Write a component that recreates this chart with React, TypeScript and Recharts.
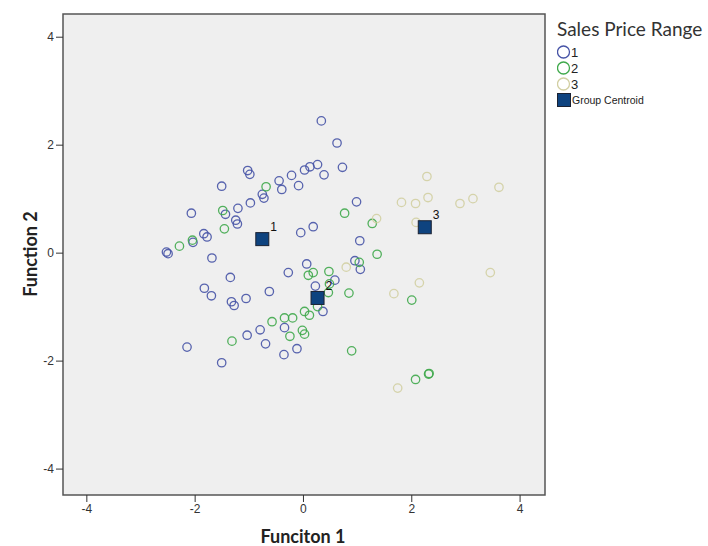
import { ScatterChart, Scatter, XAxis, YAxis, CartesianGrid, ReferenceArea } from 'recharts'

// discriminant scores: [function 1, function 2]
const group1: Array<[number, number]> = [
  [0.33, 2.45], [0.62, 2.04], [0.72, 1.59], [-1.03, 1.53], [-0.99, 1.46], [-1.51, 1.24],
  [-0.45, 1.34], [-0.4, 1.18], [-0.22, 1.44], [-0.09, 1.25], [0.02, 1.54], [0.12, 1.6],
  [0.26, 1.64], [0.38, 1.45], [-0.76, 1.09], [-0.73, 1.02], [-0.98, 0.93], [-1.21, 0.83],
  [-1.44, 0.72], [-2.07, 0.74], [-1.25, 0.61], [-1.22, 0.54], [-1.84, 0.36], [-1.78, 0.3],
  [-2.04, 0.2], [-2.53, 0.02], [-2.5, -0.01], [-1.69, -0.09], [-0.05, 0.38], [0.18, 0.49],
  [0.06, -0.2], [0.98, 0.95], [1.04, 0.23], [0.95, -0.14], [1.05, -0.3], [-1.35, -0.45],
  [-0.28, -0.36], [-1.83, -0.65], [-1.7, -0.79], [-1.33, -0.9], [-1.28, -0.97], [-1.06, -0.84],
  [-0.63, -0.71], [0.22, -0.61], [0.58, -0.5], [0.36, -1.08], [-0.8, -1.42], [-0.35, -1.38],
  [-1.04, -1.52], [-0.7, -1.68], [-0.12, -1.77], [-0.36, -1.88], [-2.15, -1.74], [-1.51, -2.03],
]

const group2: Array<[number, number]> = [
  [-0.69, 1.23], [-1.49, 0.79], [-1.46, 0.45], [-2.05, 0.24], [-2.29, 0.13], [0.76, 0.74],
  [1.27, 0.55], [1.36, -0.02], [1.03, -0.17], [0.09, -0.41], [0.18, -0.36], [0.47, -0.34],
  [0.48, -0.57], [0.46, -0.73], [0.84, -0.74], [0.26, -0.99], [0.02, -1.08], [0.11, -1.15],
  [-0.35, -1.2], [-0.2, -1.2], [-0.58, -1.27], [-0.02, -1.43], [0.02, -1.5], [-0.25, -1.54],
  [-1.32, -1.63], [0.89, -1.81], [2.0, -0.87], [2.31, -2.24], [2.32, -2.23], [2.07, -2.34],
]

const group3: Array<[number, number]> = [
  [2.28, 1.42], [3.61, 1.22], [1.81, 0.94], [2.07, 0.92], [2.3, 1.03], [2.89, 0.92],
  [3.13, 1.01], [1.35, 0.64], [2.08, 0.57], [0.79, -0.26], [3.45, -0.36], [2.14, -0.55],
  [1.67, -0.75], [1.74, -2.5],
]

const centroids: Array<[number, number, string]> = [
  [-0.76, 0.26, '1'],
  [0.26, -0.83, '2'],
  [2.24, 0.48, '3'],
]

const ticks = [-4, -2, 0, 2, 4]
const xDomain = [-4.44, 4.46]
const yDomain = [-4.48, 4.43]

const BLUE = '#4653a6'
const GREEN = '#3fa94b'
const BEIGE = '#d2cfa2'
const CENTROID = '#0e437f'

const toPoints = (arr: Array<[number, number]>) => arr.map(([x, y]) => ({ x, y }))

const ring = (color: string) => (p: any) => (
  <circle cx={p.cx} cy={p.cy} r={4.2} fill="none" stroke={color} strokeWidth={1.3} strokeOpacity={0.9} />
)

const CentroidShape = (p: any) => (
  <g>
    <rect x={p.cx - 6.5} y={p.cy - 6.5} width={13} height={13} fill={CENTROID} stroke="#1b2233" strokeWidth={1} />
    <text x={p.cx + 8} y={p.cy - 8} fontSize={12} fontFamily="Liberation Sans, Arial" fill="#111">
      {p.payload.label}
    </text>
  </g>
)

const LegendBox = () => (
  <div style={{ position: 'absolute', left: 557, top: 17, fontFamily: 'Liberation Sans, Arial', color: '#222' }}>
    <div style={{ fontFamily: 'Lato, sans-serif', fontSize: 19, color: '#333', marginBottom: 4 }}>Sales Price Range</div>
    {[['1', BLUE], ['2', GREEN], ['3', BEIGE]].map(([name, c]) => (
      <div key={name} style={{ display: 'flex', alignItems: 'center', height: 16, fontSize: 13 }}>
        <svg width={14} height={14}>
          <circle cx={6.5} cy={7} r={6} fill="none" stroke={c} strokeWidth={1.3} />
        </svg>
        <span>{name}</span>
      </div>
    ))}
    <div style={{ display: 'flex', alignItems: 'center', height: 16, fontSize: 10.5 }}>
      <svg width={15} height={14}>
        <rect x={0.5} y={0.5} width={13} height={13} fill={CENTROID} stroke="#1b2233" />
      </svg>
      <span>Group Centroid</span>
    </div>
  </div>
)

export default function App() {
  const tickStyle = { fontSize: 12, fill: '#333', fontFamily: 'Liberation Sans, Arial' }
  return (
    <div style={{ position: 'absolute', left: 0, top: 0, width: 708, height: 546, background: '#fff' }}>
      <ScatterChart width={708} height={546} margin={{ top: 14, right: 163, bottom: 21, left: 23 }}>
        <CartesianGrid horizontal={false} vertical={false} fill="#efefef" />
        <XAxis
          type="number"
          dataKey="x"
          domain={xDomain}
          ticks={ticks}
          allowDataOverflow
          height={30}
          axisLine={false}
          tickSize={7}
          tickLine={{ stroke: '#333' }}
          tick={tickStyle}
        />
        <YAxis
          type="number"
          dataKey="y"
          domain={yDomain}
          ticks={ticks}
          allowDataOverflow
          width={40}
          axisLine={false}
          tickSize={7}
          tickLine={{ stroke: '#333' }}
          tick={tickStyle}
        />
        <ReferenceArea
          x1={xDomain[0]}
          x2={xDomain[1]}
          y1={yDomain[0]}
          y2={yDomain[1]}
          fill="none"
          stroke="#555"
          strokeWidth={1.5}
          ifOverflow="visible"
        />
        <Scatter data={toPoints(group1)} shape={ring(BLUE)} isAnimationActive={false} />
        <Scatter data={toPoints(group2)} shape={ring(GREEN)} isAnimationActive={false} />
        <Scatter data={toPoints(group3)} shape={ring(BEIGE)} isAnimationActive={false} />
        <Scatter
          data={centroids.map(([x, y, label]) => ({ x, y, label }))}
          shape={CentroidShape}
          isAnimationActive={false}
        />
      </ScatterChart>
      <LegendBox />
      <div
        style={{
          position: 'absolute',
          left: 30,
          top: 254,
          transform: 'translate(-50%, -50%) rotate(-90deg)',
          fontFamily: 'Lato, sans-serif',
          fontWeight: 'bold',
          fontSize: 18,
          color: '#222',
          whiteSpace: 'nowrap',
        }}
      >
        Function 2
      </div>
      <div
        style={{
          position: 'absolute',
          left: 303,
          top: 536,
          transform: 'translate(-50%, -50%)',
          fontFamily: 'Lato, sans-serif',
          fontWeight: 'bold',
          fontSize: 18,
          color: '#222',
          whiteSpace: 'nowrap',
        }}
      >
        Funciton 1
      </div>
    </div>
  )
}
